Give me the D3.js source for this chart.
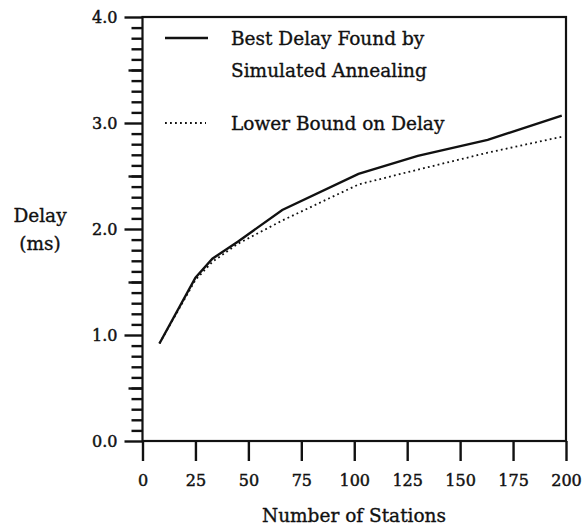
<!DOCTYPE html>
<html>
<head>
<meta charset="utf-8">
<script src="https://cdn.jsdelivr.net/npm/d3@7"></script>
<style>
  body { margin: 0; background: #fff; }
  text { font-family: "DejaVu Serif", serif; fill: #111; stroke: #111; stroke-width: 0.35px; }
</style>
</head>
<body>
<svg id="chart" width="585" height="526"></svg>
<script>
// Number of stations vs. delay (ms)
var stations = [8, 25, 33, 45, 66, 102, 130, 163, 198];
var bestDelay = [0.92, 1.54, 1.72, 1.88, 2.18, 2.52, 2.69, 2.84, 3.07];
var lowerBound = [0.92, 1.52, 1.69, 1.86, 2.08, 2.42, 2.56, 2.72, 2.87];
var xTicks = [0, 25, 50, 75, 100, 125, 150, 175, 200];
var yTicks = [0, 1, 2, 3, 4];

var svg = d3.select('#chart');

var x = d3.scaleLinear().domain([0, 200]).range([142.5, 566]);
var y = d3.scaleLinear().domain([0, 4]).range([441, 17]);

// minor ticks every 0.1, half ticks a little longer
var minor = d3.range(0, 41).map(function(i) { return i / 10; })
    .filter(function(v) { return Math.round(v * 10) % 10 !== 0; });
var halves = minor.filter(function(v) { return Math.round(v * 10) % 5 === 0; });

svg.append('g')
    .attr('transform', 'translate(' + x(0) + ',0)')
    .call(d3.axisLeft(y).tickValues(minor).tickSize(11).tickFormat(''))
    .call(function(g) { g.select('.domain').remove(); });

svg.append('g')
    .attr('transform', 'translate(' + x(0) + ',0)')
    .call(d3.axisLeft(y).tickValues(halves).tickSize(14).tickFormat(''))
    .call(function(g) { g.select('.domain').remove(); });

svg.append('g')
    .attr('transform', 'translate(' + x(0) + ',0)')
    .call(d3.axisLeft(y).tickValues(yTicks).tickSize(18).tickPadding(7)
        .tickFormat(d3.format('.1f')));

svg.append('g')
    .attr('transform', 'translate(0,' + y(0) + ')')
    .call(d3.axisBottom(x).tickValues(xTicks).tickSize(20).tickPadding(14)
        .tickFormat(d3.format('d')));

svg.selectAll('.domain').remove();
svg.selectAll('.tick line').attr('stroke', '#111').attr('stroke-width', 2.4);
svg.selectAll('.tick text')
    .style('font-family', '"DejaVu Serif", serif')
    .style('font-size', '16px')
    .style('stroke-width', '0.45px')
    .attr('fill', '#111');

// frame
svg.append('rect')
    .attr('x', x(0)).attr('y', y(4))
    .attr('width', x(200) - x(0)).attr('height', y(0) - y(4))
    .attr('fill', 'none').attr('stroke', '#111').attr('stroke-width', 2.2);

var line = function(vals) {
    return d3.line()
        .x(function(d, i) { return x(stations[i]); })
        .y(function(d) { return y(d); })(vals);
};

svg.append('path')
    .attr('d', line(lowerBound))
    .attr('fill', 'none').attr('stroke', '#111')
    .attr('stroke-width', 1.8).attr('stroke-dasharray', '1.8,3.2');

svg.append('path')
    .attr('d', line(bestDelay))
    .attr('fill', 'none').attr('stroke', '#111').attr('stroke-width', 2.4);

// legend
var legend = svg.append('g').style('font-size', '18.5px');
legend.append('line')
    .attr('x1', 165).attr('x2', 208).attr('y1', 38).attr('y2', 38)
    .attr('stroke', '#111').attr('stroke-width', 2.4);
legend.append('text').attr('x', 231).attr('y', 45).text('Best Delay Found by');
legend.append('text').attr('x', 231).attr('y', 77).text('Simulated Annealing');
legend.append('line')
    .attr('x1', 165).attr('x2', 206).attr('y1', 123).attr('y2', 123)
    .attr('stroke', '#111').attr('stroke-width', 1.8).attr('stroke-dasharray', '1.8,3.2');
legend.append('text').attr('x', 231).attr('y', 130).text('Lower Bound on Delay');

// axis titles
svg.append('text')
    .attr('x', 354).attr('y', 522)
    .attr('text-anchor', 'middle').style('font-size', '18.5px')
    .text('Number of Stations');

svg.append('text')
    .attr('x', 40).attr('y', 222)
    .attr('text-anchor', 'middle').style('font-size', '18.5px')
    .text('Delay');
svg.append('text')
    .attr('x', 40).attr('y', 250)
    .attr('text-anchor', 'middle').style('font-size', '18.5px')
    .text('(ms)');
</script>
</body>
</html>
